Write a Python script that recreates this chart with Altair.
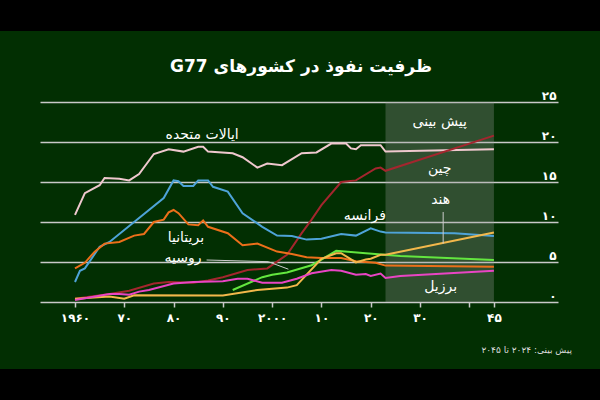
import json
import altair as alt
import pandas as pd

FONT = "DejaVu Sans"

# ---------------- data ----------------
series_names = ["us", "china", "france", "uk", "russia", "india", "brazil"]
series_colors = ["#efc8ce", "#a3262e", "#4ea3d8", "#ec6f1a", "#63e63f", "#f2b84b", "#e845c4"]

us_years = [1960, 1962, 1965, 1966, 1969, 1971, 1973, 1976, 1979, 1982, 1985, 1986, 1987, 1992,
            1994, 1997, 1999, 2002, 2006, 2009, 2012, 2015, 2016, 2017, 2018, 2022, 2023, 2045]
us_vals = [10.9, 13.6, 14.6, 15.5, 15.4, 15.2, 16.0, 18.5, 19.1, 18.8, 19.4, 19.4, 18.8, 18.6,
           18.1, 16.8, 17.3, 17.1, 18.6, 18.7, 19.8, 19.8, 19.2, 19.1, 19.6, 19.6, 18.8, 19.1]

china_years = [1960, 1967, 1971, 1976, 1979, 1984, 1987, 1990, 1995, 1999, 2003, 2006, 2008, 2010,
               2014, 2017, 2021, 2022, 2023, 2045]
china_vals = [0.4, 1.0, 1.4, 2.3, 2.5, 2.4, 2.7, 3.1, 4.0, 4.2, 5.9, 8.6, 10.3, 12.1,
              15.0, 15.2, 16.7, 16.8, 16.4, 20.8]

france_years = [1960, 1961, 1962, 1965, 1967, 1972, 1978, 1980, 1981, 1982, 1984, 1985, 1987, 1988,
                1991, 1994, 1998, 2001, 2004, 2007, 2010, 2014, 2017, 2020, 2022, 2023, 2037, 2045]
france_vals = [2.5, 3.9, 4.2, 6.9, 7.5, 10.0, 13.0, 15.2, 15.1, 14.5, 14.5, 15.2, 15.2, 14.4,
               13.8, 11.1, 9.4, 8.3, 8.25, 7.8, 7.9, 8.5, 8.3, 9.2, 8.8, 8.7, 8.6, 8.25]

uk_years = [1960, 1962, 1964, 1966, 1969, 1972, 1974, 1976, 1978, 1979, 1980, 1981, 1983, 1985,
            1986, 1987, 1991, 1994, 1997, 2001, 2004, 2007, 2010, 2014, 2017, 2021, 2023, 2045]
uk_vals = [4.2, 4.9, 6.3, 7.3, 7.5, 8.3, 8.5, 10.0, 10.3, 11.2, 11.5, 11.1, 9.7, 9.6,
           10.2, 9.4, 8.6, 7.1, 7.3, 6.3, 6.0, 5.6, 5.5, 5.5, 5.1, 4.9, 4.55, 4.4]

russia_years = [1992, 1998, 2000, 2003, 2008, 2010, 2013, 2019, 2026, 2045]
russia_vals = [1.5, 3.1, 3.4, 3.7, 4.6, 5.3, 6.4, 6.1, 5.75, 5.25]

india_years = [1960, 1967, 1970, 1972, 1990, 1997, 2003, 2005, 2010, 2013, 2014, 2017, 2019, 2020,
               2022, 2023, 2045]
india_vals = [0.4, 0.7, 0.4, 0.85, 0.8, 1.5, 1.8, 2.1, 5.4, 6.1, 6.1, 4.95, 5.3, 5.4,
              5.9, 5.9, 8.7]

brazil_years = [1960, 1967, 1969, 1971, 1973, 1975, 1980, 1984, 1990, 1993, 1995, 1998, 2002, 2005,
                2008, 2012, 2014, 2017, 2019, 2020, 2022, 2023, 2026, 2045]
brazil_vals = [0.25, 1.0, 1.0, 0.9, 1.3, 1.5, 2.3, 2.5, 2.6, 2.9, 2.9, 2.4, 2.4, 2.9,
               3.6, 4.0, 3.9, 3.4, 3.5, 3.25, 3.55, 3.0, 3.25, 3.9]

label_texts = ["ایالات متحده", "بریتانیا", "روسیه", "فرانسه", "پیش بینی", "چین", "هند", "برزیل"]
label_years = [1985.8, 1982.5, 1981.9, 2018.8, 2034.0, 2034.0, 2034.2, 2034.2]
label_vals = [20.9, 8.0, 5.5, 10.75, 22.5, 16.6, 12.75, 1.9]

pointer_ids = ["russia", "russia", "russia", "india", "india"]
pointer_years = [1986.7, 1999.2, 2003.3, 2034.7, 2034.7]
pointer_vals = [5.25, 5.04, 4.1, 11.25, 7.3]

forecast_start, forecast_end = 2023, 2045

y_tick_values = [0, 5, 10, 15, 20, 25]
y_tick_labels = ["۰", "۵", "۱۰", "۱۵", "۲۰", "۲۵"]
x_tick_values = [1960, 1970, 1980, 1990, 2000, 2010, 2020, 2030, 2040, 2045]
x_tick_labels = ["۱۹۶۰", "۷۰", "۸۰", "۹۰", "۲۰۰۰", "۱۰", "۲۰", "۳۰", "", "۴۵"]

title_text = "\u202bظرفیت نفوذ در کشورهای G77\u202c"
footnote_text = "پیش بینی: ۲۰۲۴ تا ۲۰۴۵"

# ---------------- tables ----------------
series = {
    "us": (us_years, us_vals), "china": (china_years, china_vals),
    "france": (france_years, france_vals), "uk": (uk_years, uk_vals),
    "russia": (russia_years, russia_vals), "india": (india_years, india_vals),
    "brazil": (brazil_years, brazil_vals),
}
rows = []
for name, (yrs, vs) in series.items():
    for y, v in zip(yrs, vs):
        rows.append({"country": name, "year": y, "value": v})
df = pd.DataFrame(rows)
labels_df = pd.DataFrame({"text": label_texts, "year": label_years, "value": label_vals})
pointers_df = pd.DataFrame({"group": pointer_ids, "year": pointer_years, "value": pointer_vals})
shade_df = pd.DataFrame({"year": [forecast_start], "year2": [forecast_end], "value": [0], "value2": [25]})

x_expr = f"{json.dumps(x_tick_labels, ensure_ascii=False)}[indexof({json.dumps(x_tick_values)}, datum.value)]"
y_expr = f"{json.dumps(y_tick_labels, ensure_ascii=False)}[indexof({json.dumps(y_tick_values)}, datum.value)]"

xs = alt.Scale(domain=[1952.9, 2058], nice=False, zero=False)
ys = alt.Scale(domain=[0, 25], nice=False, zero=False)
x_axis = alt.Axis(values=x_tick_values, labelExpr=x_expr, domain=False, ticks=True, tickColor="#c9c9c9",
                  tickWidth=1.5, tickSize=5, labelColor="white", labelFont=FONT, labelFontSize=12,
                  labelFontWeight="bold", labelPadding=5, grid=False, title=None, labelFlush=False,
                  labelOverlap=False)
y_axis = alt.Axis(orient="right", values=y_tick_values, labelExpr=y_expr, domain=False, ticks=False,
                  tickSize=0, grid=True, gridColor="#c9c9c9", gridWidth=1.5, labelAlign="right",
                  labelPadding=-2, labelBaseline="alphabetic", labelOffset=-3, labelColor="white",
                  labelFont=FONT, labelFontSize=12, labelFontWeight="bold", title=None, labelOverlap=False)
X = alt.X("year:Q", scale=xs, axis=x_axis)
Y = alt.Y("value:Q", scale=ys, axis=y_axis)

one = alt.Data(values=[{}])
band_top = alt.Chart(one).mark_rect(color="black").encode(
    x=alt.value(-40), x2=alt.value(560), y=alt.value(-102), y2=alt.value(-71))
band_bottom = alt.Chart(one).mark_rect(color="black").encode(
    x=alt.value(-40), x2=alt.value(560), y=alt.value(267), y2=alt.value(298))

title = alt.Chart(one).mark_text(color="white", font=FONT, fontSize=17, fontWeight="bold",
                                 align="center", baseline="middle").encode(
    x=alt.value(261), y=alt.value(-35), text=alt.value(title_text))

shade = alt.Chart(shade_df).mark_rect(color="#9a9a9a", opacity=0.3).encode(
    x=X, x2="year2:Q", y=Y, y2="value2:Q")

lines = alt.Chart(df).mark_line(strokeWidth=2).encode(
    x=X, y=Y,
    color=alt.Color("country:N", scale=alt.Scale(domain=series_names, range=series_colors), legend=None),
    order="year:Q")

pointers = alt.Chart(pointers_df).mark_line(color="#cccccc", strokeWidth=1).encode(
    x=X, y=Y, detail="group:N")

labels = alt.Chart(labels_df).mark_text(color="white", font=FONT, fontSize=14, align="center",
                                        baseline="middle").encode(x=X, y=Y, text="text:N")

footnote = alt.Chart(one).mark_text(color="#dddddd", font=FONT, fontSize=9, align="right",
                                    baseline="middle").encode(
    x=alt.value(532), y=alt.value(248), text=alt.value(footnote_text))

chart = alt.layer(band_top, band_bottom, title, shade, lines, pointers, labels, footnote).properties(
    width=518, height=200, background="#022f02",
    padding={"left": 40, "top": 102, "right": 42, "bottom": 98},
    autosize=alt.AutoSizeParams(type="none"),
).configure_view(stroke=None)

chart.save("out.html", embed_options={"renderer": "svg", "actions": False})
